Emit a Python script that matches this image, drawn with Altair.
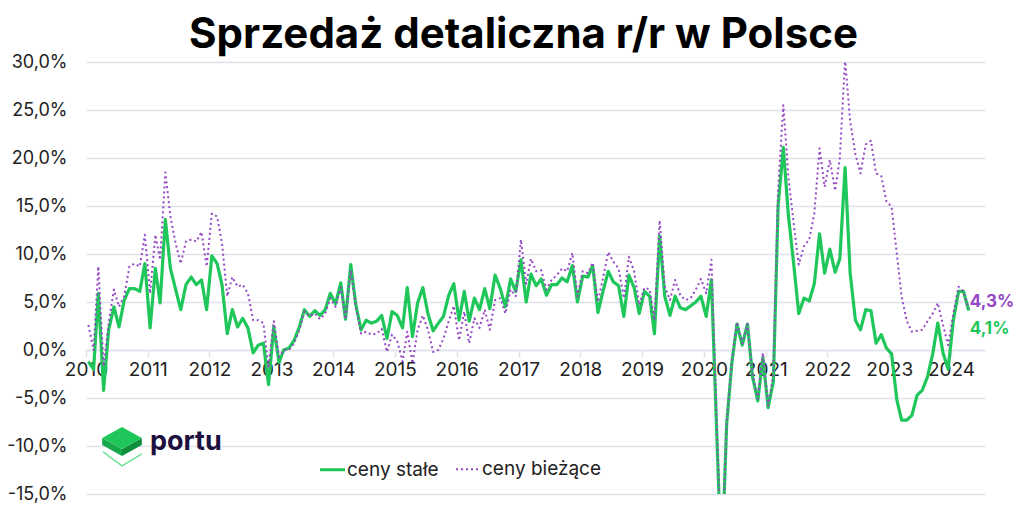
import pandas as pd
import altair as alt

# sprzedaż detaliczna r/r, ceny stałe (%), od 01.2010 do 04.2024
stale = [
    -1.2, -2.0, 5.9, -4.2, 2.1, 4.5, 2.4, 5.2, 6.4, 6.4, 6.1, 9.0,     # 2010
    2.3, 8.5, 4.9, 13.6, 8.5, 6.3, 4.2, 6.8, 7.6, 6.8, 7.3, 4.2,       # 2011
    9.8, 9.0, 6.8, 1.7, 4.2, 2.4, 3.3, 2.3, -0.3, 0.5, 0.7, -3.6,      # 2012
    2.4, -1.3, 0.0, 0.2, 1.0, 2.4, 4.2, 3.5, 4.1, 3.6, 4.2, 5.9,       # 2013
    4.8, 7.0, 3.2, 8.9, 4.7, 2.1, 3.1, 2.8, 3.0, 3.6, 1.2, 4.0,        # 2014
    3.6, 2.3, 6.5, 1.4, 4.9, 6.5, 3.8, 2.0, 2.8, 3.5, 5.7, 6.9,        # 2015
    3.1, 6.1, 3.0, 5.4, 4.2, 6.4, 4.3, 7.8, 6.4, 4.5, 7.4, 6.1,        # 2016
    9.4, 5.0, 7.9, 6.7, 7.4, 5.7, 6.8, 6.8, 7.5, 7.1, 8.8, 5.0,        # 2017
    7.7, 7.6, 8.8, 3.9, 6.1, 8.2, 7.1, 6.7, 3.5, 7.8, 6.5, 3.8,        # 2018
    6.1, 5.6, 1.7, 11.9, 5.6, 3.6, 5.6, 4.4, 4.2, 4.6, 5.0, 5.6,       # 2019
    3.5, 7.3, -7.5, -22.9, -7.7, -1.3, 2.7, 0.5, 2.7, -2.8, -5.3, -0.8,  # 2020
    -6.0, -3.3, 15.0, 21.1, 14.0, 9.0, 3.8, 5.4, 5.1, 6.9, 12.1, 8.0,  # 2021
    10.5, 8.1, 9.5, 19.0, 8.0, 3.1, 2.1, 4.2, 4.1, 0.7, 1.6, 0.2,      # 2022
    -0.4, -5.2, -7.3, -7.3, -6.8, -4.7, -4.2, -2.8, -0.4, 2.8, -0.3, -2.0,  # 2023
    3.1, 6.1, 6.1, 4.1,                                                # 2024
]

# ceny bieżące (%)
biezace = [
    2.6, 0.0, 8.7, -1.7, 2.8, 6.3, 4.5, 5.6, 8.7, 9.0, 8.7, 12.0,      # 2010
    5.9, 12.0, 9.4, 18.5, 13.9, 11.1, 9.0, 11.3, 11.5, 11.3, 12.3, 8.7,  # 2011
    14.2, 13.9, 11.1, 5.6, 7.6, 6.6, 6.8, 5.9, 3.1, 3.1, 2.8, -1.9,    # 2012
    3.0, -0.7, 0.0, 0.0, 0.7, 2.1, 4.0, 3.5, 3.8, 3.2, 3.8, 5.4,       # 2013
    4.5, 6.5, 3.2, 8.3, 4.5, 1.7, 1.9, 1.6, 1.7, 2.2, -0.2, 1.6,       # 2014
    0.9, -1.2, 1.9, -1.4, 2.1, 3.6, 2.1, -0.2, 0.0, 1.2, 3.0, 4.6,     # 2015
    1.0, 4.0, 0.7, 3.3, 2.3, 4.2, 2.1, 5.2, 5.4, 3.8, 6.3, 5.6,        # 2016
    11.5, 6.9, 9.5, 8.2, 8.3, 6.3, 7.3, 7.8, 8.5, 8.2, 10.1, 5.6,      # 2017
    8.2, 8.0, 9.1, 5.0, 7.5, 10.2, 9.2, 8.5, 5.4, 9.7, 8.2, 4.7,       # 2018
    6.5, 6.3, 3.1, 13.5, 6.6, 5.2, 7.3, 5.7, 5.2, 5.4, 6.3, 7.4,       # 2019
    5.9, 9.4, -6.5, -22.6, -7.6, -1.0, 2.9, 0.7, 2.7, -2.5, -5.1, -0.3,  # 2020
    -5.8, -2.5, 16.7, 25.5, 18.0, 13.2, 8.9, 10.8, 11.5, 14.2, 21.0, 17.0,  # 2021
    19.8, 16.6, 20.0, 30.3, 23.8, 20.4, 18.4, 21.4, 21.8, 18.4, 18.1, 15.5,  # 2022
    14.9, 10.0, 5.6, 3.0, 1.9, 2.0, 2.1, 3.0, 3.8, 4.9, 2.6, 0.5,      # 2023
    3.8, 6.6, 6.1, 4.3,                                                # 2024
]

serie = ['ceny stałe', 'ceny bieżące']
kolory = ['#1fc75a', '#9448c4']
y_ticks = [-15, -10, -5, 0, 5, 10, 15, 20, 25, 30]
lata = list(range(2010, 2025))

W, H = 899, 432
FONT = 'Inter'
GRID = '#e0e1ea'

miesiace = pd.date_range('2010-01-01', periods=len(stale), freq='MS') + pd.Timedelta(days=14)
df = pd.DataFrame({'data': miesiace, 'ceny stałe': stale, 'ceny bieżące': biezace})
long = df.melt(id_vars='data', var_name='seria', value_name='wartosc')

x_scale = alt.Scale(domain=[alt.DateTime(year=2010, month=1, date=1),
                            alt.DateTime(year=2024, month=7, date=20)])
y_scale = alt.Scale(domain=[-15, 30], nice=False)

lines = alt.Chart(long).mark_line(clip=True, strokeJoin='round').encode(
    x=alt.X('data:T', scale=x_scale,
            axis=alt.Axis(title=None, format='%Y', grid=False,
                          values=[alt.DateTime(year=r, month=1, date=1) for r in lata],
                          offset=-H / 3, domainColor=GRID, domainWidth=1.5,
                          tickColor=GRID, tickSize=7, tickWidth=1.5,
                          labelOverlap=False, labelFlush=False,
                          labelFontSize=19, labelColor='#222222', labelPadding=3,
                          labelFont=FONT)),
    y=alt.Y('wartosc:Q', scale=y_scale,
            axis=alt.Axis(title=None, values=y_ticks, domain=False, ticks=False,
                          gridColor=GRID, gridWidth=1.5, labelPadding=19,
                          labelFontSize=18, labelColor='#222222', labelFont=FONT,
                          labelExpr="replace(replace(format(datum.value, '.1f'), '.', ','), '\u2212', '-') + '%'")),
    color=alt.Color('seria:N', scale=alt.Scale(domain=serie, range=kolory),
                    legend=alt.Legend(title=None, orient='none', legendX=232, legendY=393,
                                      direction='horizontal', symbolType='stroke',
                                      symbolSize=625, symbolStrokeWidth=2.5,
                                      labelFontSize=19, labelFont=FONT, labelColor='#222222',
                                      labelOffset=0, columnPadding=13, padding=0)),
    strokeDash=alt.StrokeDash('seria:N', scale=alt.Scale(domain=serie, range=[[1, 0], [2, 3]])),
    strokeWidth=alt.StrokeWidth('seria:N', scale=alt.Scale(domain=serie, range=[3.2, 2]), legend=None),
)

# etykiety ostatnich wartości
ost = pd.DataFrame({
    'data': [miesiace[-1]] * 2,
    'wartosc': [biezace[-1], stale[-1]],
    'seria': ['ceny bieżące', 'ceny stałe'],
})
ost['etykieta'] = ost['wartosc'].map(lambda v: f'{v:.1f}'.replace('.', ',') + '%')

end_purple = alt.Chart(ost).transform_filter(alt.datum.seria == 'ceny bieżące').mark_text(
    align='left', baseline='middle', dx=1, dy=-7, fontSize=17, fontWeight='bold',
    font=FONT, color=kolory[1]
).encode(x=alt.X('data:T', scale=x_scale), y=alt.Y('wartosc:Q', scale=y_scale), text='etykieta:N')

end_green = alt.Chart(ost).transform_filter(alt.datum.seria == 'ceny stałe').mark_text(
    align='left', baseline='middle', dx=1, dy=18, fontSize=17, fontWeight='bold',
    font=FONT, color=kolory[0]
).encode(x=alt.X('data:T', scale=x_scale), y=alt.Y('wartosc:Q', scale=y_scale), text='etykieta:N')

# logo portu
one = pd.DataFrame({'k': [0]})
cube_top = alt.Chart(one).mark_point(
    shape='M 0 -0.86 L 0.9 -0.36 L 0 0.14 L -0.9 -0.36 Z', size=1936, filled=True,
    color='#1fc75a', opacity=1).encode(x=alt.value(36), y=alt.value(384))
cube_left = alt.Chart(one).mark_point(
    shape='M -0.9 -0.36 L 0 0.14 L 0 0.45 L -0.9 -0.05 Z', size=1936, filled=True,
    color='#17a84a', opacity=1).encode(x=alt.value(36), y=alt.value(384))
cube_right = alt.Chart(one).mark_point(
    shape='M 0 0.14 L 0.9 -0.36 L 0.9 -0.05 L 0 0.45 Z', size=1936, filled=True,
    color='#0e8f3b', opacity=1).encode(x=alt.value(36), y=alt.value(384))
cube_base = alt.Chart(one).mark_point(
    shape='M -0.86 0.27 L 0 0.9 L 0.9 0.36', size=1936, filled=False,
    color='#6fe09a', strokeWidth=1.5, opacity=1).encode(x=alt.value(36), y=alt.value(384))
logo_text = alt.Chart(one).mark_text(
    text='portu', align='left', baseline='alphabetic', fontSize=27, fontWeight='bold',
    font=FONT, color='#1d0f3e').encode(x=alt.value(64), y=alt.value(388))

chart = alt.layer(
    lines, end_purple, end_green, cube_base, cube_left, cube_right, cube_top, logo_text
).properties(
    width=W,
    height=H,
    autosize='none',
    padding={'left': 78, 'top': 54, 'right': 31, 'bottom': 20},
    title=alt.TitleParams(text='Sprzedaż detaliczna r/r w Polsce', fontSize=42,
                          font=FONT, fontWeight='bold', color='#000000',
                          anchor='middle', dx=-12, dy=10, offset=6),
).configure_view(stroke='transparent')

chart.save('out.html', embed_options={'renderer': 'svg', 'actions': False})
